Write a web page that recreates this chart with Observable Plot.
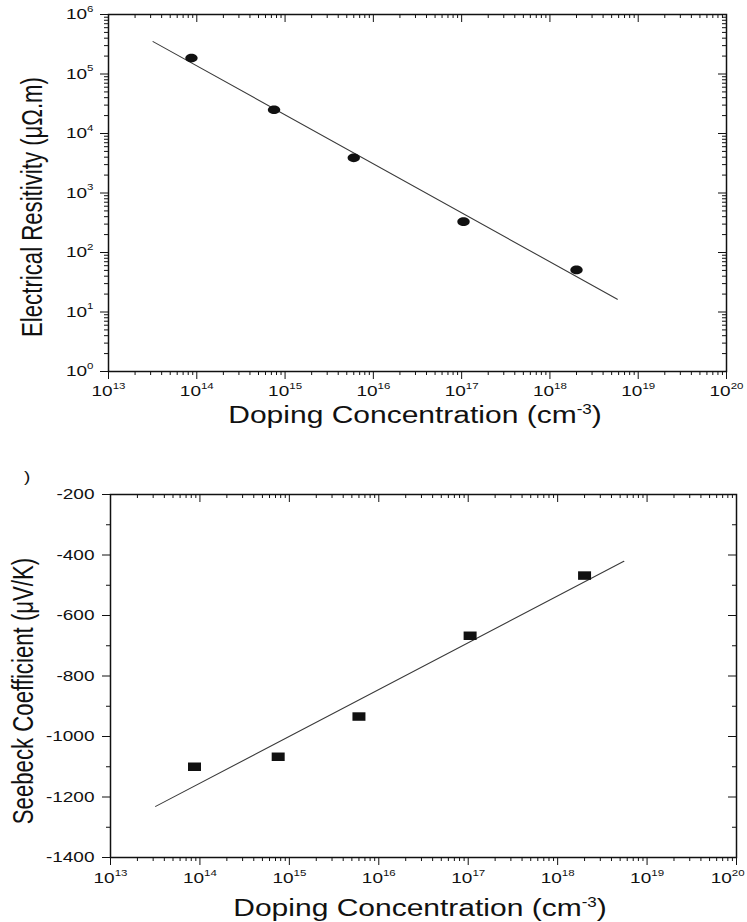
<!DOCTYPE html>
<html>
<head>
<meta charset="utf-8">
<script src="https://cdn.jsdelivr.net/npm/d3@7"></script>
<script src="https://cdn.jsdelivr.net/npm/@observablehq/plot@0.6"></script>
<style>
  html, body { margin: 0; padding: 0; background: #fff; }
  #wrap { position: relative; width: 747px; height: 922px; overflow: hidden; background: #fff; }
  #topPanel { position: absolute; left: 0; top: 0; }
  #botPanel { position: absolute; left: 0; top: 430px; }
</style>
</head>
<body>
<div id="wrap"><div id="topPanel"></div><div id="botPanel"></div></div>
<script>
// ---------------- data ----------------
const doping = [8.7e13, 7.5e14, 6.0e15, 1.05e17, 2.0e18];          // cm^-3
const resistivity = [1.85e5, 2.5e4, 3.9e3, 330, 51];               // µΩ.m
const seebeck = [-1100, -1067, -934, -667, -468];                  // µV/K

const fitResDoping = [3.2e13, 5.8e18];
const fitResistivity = [3.5e5, 16.4];
const fitSeeDoping = [3.2e13, 5.5e18];
const fitSeebeck = [-1231, -421];

// tick values
const xExponents = [13, 14, 15, 16, 17, 18, 19, 20];
const resExponents = [0, 1, 2, 3, 4, 5, 6];
const seeMajor = [-1400, -1200, -1000, -800, -600, -400, -200];
const seeMinor = [-1300, -1100, -900, -700, -500, -300];
const minorMult = [2, 3, 4, 5, 6, 7, 8, 9];

// text
const xTitleParts = ["Doping Concentration (cm", "-3", ")"];
const yTitleRes = "Electrical Resitivity (\u03BC\u03A9.m)";
const yTitleSee = "Seebeck Coefficient (\u03BCV/K)";
const panelTag = ")";

// ---------------- helpers ----------------
const FONT = '"Liberation Sans", Arial, Helvetica, sans-serif';
const INK = "#111";
const SQ = 0.74;              // vertical squash of the original figure's text
const TICK_FONT = 19;
const NS = "http://www.w3.org/2000/svg";

const xMajor = xExponents.map(e => 10 ** e);
const xMinor = xExponents.slice(0, -1).flatMap(e => minorMult.map(k => k * 10 ** e));
const resMajor = resExponents.map(e => 10 ** e);
const resMinor = resExponents.slice(0, -1).flatMap(e => minorMult.map(k => k * 10 ** e));
const pow = d => "10^" + Math.round(Math.log10(d));

const resData = doping.map((d, i) => ({doping: d, value: resistivity[i]}));
const seeData = doping.map((d, i) => ({doping: d, value: seebeck[i]}));
const resFit = fitResDoping.map((d, i) => ({doping: d, value: fitResistivity[i]}));
const seeFit = fitSeeDoping.map((d, i) => ({doping: d, value: fitSeebeck[i]}));

const ellipse = (rx, ry) => ({
  draw(ctx) {
    const k = 0.5523;
    ctx.moveTo(rx, 0);
    ctx.bezierCurveTo(rx, k * ry, k * rx, ry, 0, ry);
    ctx.bezierCurveTo(-k * rx, ry, -rx, k * ry, -rx, 0);
    ctx.bezierCurveTo(-rx, -k * ry, -k * rx, -ry, 0, -ry);
    ctx.bezierCurveTo(k * rx, -ry, rx, -k * ry, rx, 0);
    ctx.closePath();
  }
});
const rectangle = (w, h) => ({
  draw(ctx) {
    ctx.moveTo(-w / 2, -h / 2);
    ctx.lineTo(w / 2, -h / 2);
    ctx.lineTo(w / 2, h / 2);
    ctx.lineTo(-w / 2, h / 2);
    ctx.closePath();
  }
});

function makePanel({height, mt, mb, ml, mr, yScale, yMajor, yMinor, yFormat, yPad, xPad, data, fit, symbol}) {
  const W = 747;
  const pw = W - ml - mr, ph = height - mt - mb;
  return Plot.plot({
    width: W, height,
    marginTop: mt, marginBottom: mb, marginLeft: ml, marginRight: mr,
    style: {fontFamily: FONT, fontSize: TICK_FONT + "px", color: INK, background: "transparent", overflow: "visible"},
    x: {type: "log", domain: [1e13, 1e20]},
    y: yScale,
    marks: [
      Plot.line(fit, {x: "doping", y: "value", stroke: "#3a3a3a", strokeWidth: 1.1}),
      Plot.dot(data, {x: "doping", y: "value", symbol, fill: INK, stroke: "none"}),
      Plot.frame({stroke: INK, strokeWidth: 1.5}),
      // outer ticks + labels
      Plot.axisX({ticks: xMinor, tickSize: 4, fill: "none", stroke: INK, label: null, tickFormat: () => ""}),
      Plot.axisX({ticks: xMajor, tickSize: 8, tickPadding: xPad, stroke: INK, fill: INK, fontSize: TICK_FONT, tickFormat: pow, label: null}),
      Plot.axisY({ticks: yMinor, tickSize: 4, fill: "none", stroke: INK, label: null, tickFormat: () => ""}),
      Plot.axisY({ticks: yMajor, tickSize: 8, tickPadding: yPad, stroke: INK, fill: INK, fontSize: TICK_FONT, tickFormat: yFormat, label: null}),
      // mirrored inner ticks on top and right
      Plot.tickX(xMajor, {x: d => d, stroke: INK, insetBottom: ph - 8}),
      Plot.tickX(xMinor, {x: d => d, stroke: INK, insetBottom: ph - 4}),
      Plot.tickY(yMajor, {y: d => d, stroke: INK, insetLeft: pw - 8}),
      Plot.tickY(yMinor, {y: d => d, stroke: INK, insetLeft: pw - 4})
    ]
  });
}

function fixTickLabels(svg) {
  svg.querySelectorAll('g[aria-label$="tick label"] text').forEach(t => {
    const s = t.textContent;
    t.setAttribute("font-size", TICK_FONT);
    t.style.fontSize = TICK_FONT + "px";
    t.style.fontFamily = FONT;
    if (s.startsWith("10^")) {
      t.textContent = "10";
      const ts = document.createElementNS(NS, "tspan");
      ts.setAttribute("dy", "-10");
      ts.setAttribute("font-size", "11.5");
      ts.style.fontSize = "11.5px";
      ts.textContent = s.slice(3);
      t.appendChild(ts);
    }
    let tr = t.getAttribute("transform");
    if (!tr) {
      const x = parseFloat(t.getAttribute("x")) || 0;
      const y = parseFloat(t.getAttribute("y")) || 0;
      tr = `translate(${x},${y})`;
      t.removeAttribute("x");
      if (!/em/.test(t.getAttribute("y") || "")) t.removeAttribute("y");
    }
    t.setAttribute("transform", tr + ` scale(1,${SQ})`);
  });
}

// keep labels inside the 747px page
function keepInside(svg) {
  const limit = svg.getBoundingClientRect().left + 745;
  svg.querySelectorAll('g[aria-label$="tick label"] text').forEach(t => {
    const r = t.getBoundingClientRect();
    if (r.right > limit) {
      t.setAttribute("transform", `translate(${-(r.right - limit)},0) ` + t.getAttribute("transform"));
    }
  });
}

function addText(svg, {x, y, rotate = 0, size, sx = 1, sy = 1, parts, anchor = "middle"}) {
  const t = document.createElementNS(NS, "text");
  t.setAttribute("transform", `translate(${x},${y}) rotate(${rotate}) scale(${sx},${sy})`);
  t.setAttribute("text-anchor", anchor);
  t.setAttribute("font-size", size);
  t.style.fontSize = size + "px";
  t.setAttribute("font-family", FONT);
  t.setAttribute("fill", INK);
  parts.forEach(p => {
    const ts = document.createElementNS(NS, "tspan");
    if (p.dy) ts.setAttribute("dy", p.dy);
    if (p.size) { ts.setAttribute("font-size", p.size); ts.style.fontSize = p.size + "px"; }
    ts.textContent = p.text;
    t.appendChild(ts);
  });
  svg.appendChild(t);
}

const xTitle = [
  {text: xTitleParts[0]},
  {text: xTitleParts[1], dy: -11, size: 17},
  {text: xTitleParts[2], dy: 11}
];

// ---------------- top panel ----------------
const topPlot = makePanel({
  height: 430, mt: 14, mb: 59, ml: 108, mr: 21,
  yScale: {type: "log", domain: [1, 1e6]},
  yMajor: resMajor, yMinor: resMinor, yFormat: pow, yPad: 7, xPad: 7,
  data: resData, fit: resFit, symbol: ellipse(6.2, 4.3)
});
fixTickLabels(topPlot);
addText(topPlot, {x: 415, y: 423, size: 30, sy: 0.82, parts: xTitle});
addText(topPlot, {x: 42, y: 207, rotate: -90, size: 30, sx: SQ, parts: [{text: yTitleRes}]});
document.getElementById("topPanel").appendChild(topPlot);
keepInside(topPlot);

// ---------------- bottom panel ----------------
const botPlot = makePanel({
  height: 492, mt: 64, mb: 65, ml: 110, mr: 11,
  yScale: {type: "linear", domain: [-1400, -200]},
  yMajor: seeMajor, yMinor: seeMinor, yFormat: d => String(d), yPad: 8, xPad: 8,
  data: seeData, fit: seeFit, symbol: rectangle(13, 8.5)
});
fixTickLabels(botPlot);
addText(botPlot, {x: 420, y: 486, size: 30, sy: 0.82, parts: xTitle});
addText(botPlot, {x: 33, y: 261, rotate: -90, size: 30, sx: SQ, parts: [{text: yTitleSee}]});
addText(botPlot, {x: 24, y: 52, size: 19, sy: SQ, anchor: "start", parts: [{text: panelTag}]});
document.getElementById("botPanel").appendChild(botPlot);
keepInside(botPlot);
</script>
</body>
</html>
